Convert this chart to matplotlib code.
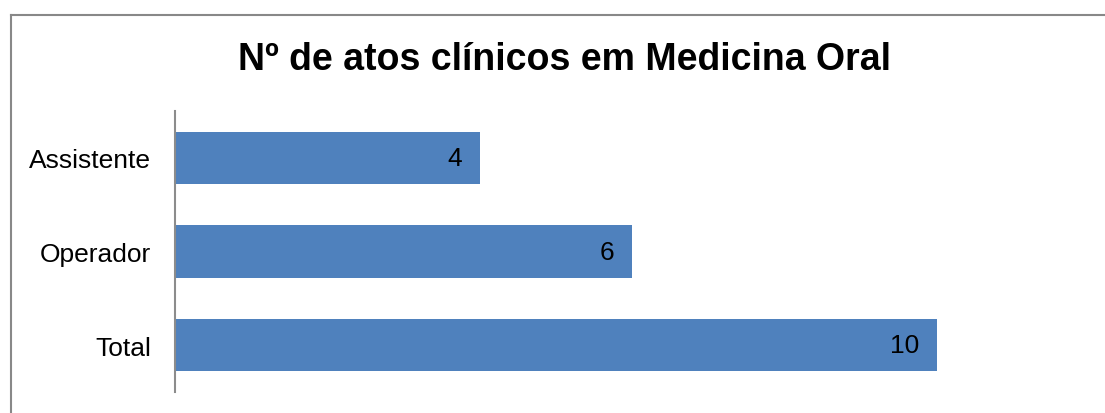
import matplotlib
matplotlib.use("Agg")
import matplotlib.pyplot as plt
from matplotlib.lines import Line2D

categories = ["Total", "Operador", "Assistente"]
values = [10, 6, 4]
title = "Nº de atos clínicos em Medicina Oral"

plt.rcParams['font.family'] = ['Liberation Sans', 'DejaVu Sans']

W, H = 1105, 414
fig = plt.figure(figsize=(W / 100, H / 100), dpi=100)
fig.patch.set_facecolor("white")

# axes placement (pixels)
x0, x1 = 175, 1013
y_top, y_bot = 112, 393
ax = fig.add_axes([x0 / W, 1 - y_bot / H, (x1 - x0) / W, (y_bot - y_top) / H])

bars = ax.barh(range(len(categories)), values, height=0.56, color="#4F81BD")
ax.set_xlim(0, 11)
ax.set_ylim(-0.5, len(categories) - 0.5)
ax.set_yticks(range(len(categories)))
ax.set_yticklabels(categories, fontsize=19)
ax.tick_params(axis="y", length=0, pad=17)
ax.set_xticks([])
for s in ["top", "right", "bottom"]:
    ax.spines[s].set_visible(False)
ax.spines["left"].set_color("#8c8c8c")
ax.spines["left"].set_linewidth(1.5)

for b, v in zip(bars, values):
    ax.annotate(str(v), xy=(b.get_width(), b.get_y() + b.get_height() / 2),
                xytext=(-12.5, 0), textcoords="offset points",
                ha="right", va="center", fontsize=19, color="black")

fig.text(564 / W, 1 - 60 / H, title, ha="center", va="center",
         fontsize=27, fontweight="bold")

# outer chart border (top and left visible)
fig.add_artist(Line2D([11 / W, 1.0], [1 - 16 / H, 1 - 16 / H], color="#888888", lw=1.5,
                      transform=fig.transFigure))
fig.add_artist(Line2D([11 / W, 11 / W], [0, 1 - 16 / H], color="#888888", lw=1.5,
                      transform=fig.transFigure))

fig.savefig("out.png", dpi=100)
